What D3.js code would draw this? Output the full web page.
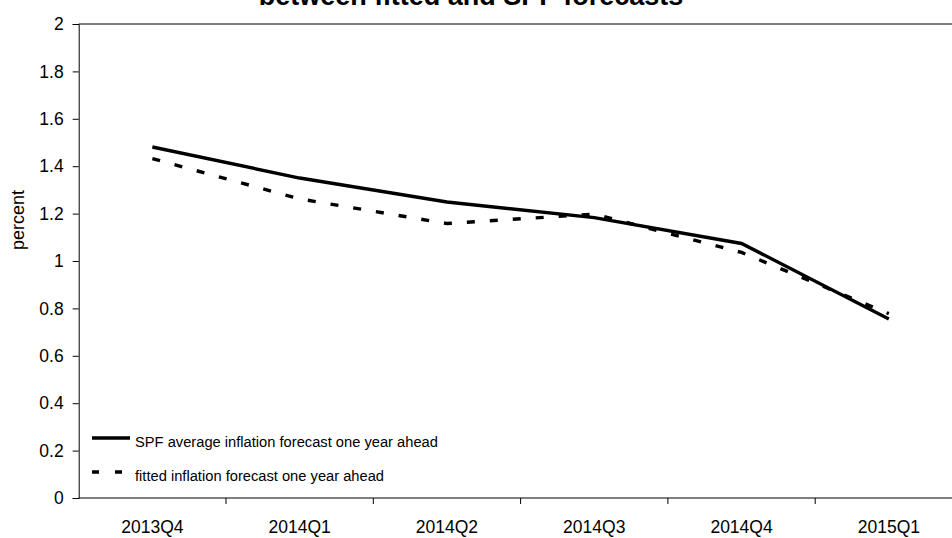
<!DOCTYPE html>
<html>
<head>
<meta charset="utf-8">
<script src="https://cdn.jsdelivr.net/npm/d3@7"></script>
<style>
  body { margin: 0; background: #fff; }
  svg { display: block; font-family: "Liberation Sans", Arial, sans-serif; }
</style>
</head>
<body>
<div id="chart"></div>
<script>
// data
const quarters = ["2013Q4", "2014Q1", "2014Q2", "2014Q3", "2014Q4", "2015Q1"];
const spf_values = [1.481, 1.350, 1.249, 1.183, 1.074, 0.755];
const fitted_values = [1.432, 1.262, 1.158, 1.198, 1.036, 0.778];
const y_ticks = [0, 0.2, 0.4, 0.6, 0.8, 1, 1.2, 1.4, 1.6, 1.8, 2];
const legend_labels = ["SPF average inflation forecast one year ahead", "fitted inflation forecast one year ahead"];

const width = 952, height = 538;
const margin = {top: 24, left: 78.7, bottom: 498};
const band = 147.3;

const svg = d3.select("#chart")
    .append("svg")
    .attr("width", width)
    .attr("height", height);

// scales (plot area runs past the right edge, as in the picture)
const x = d3.scaleBand()
    .domain(quarters)
    .range([margin.left, margin.left + band * quarters.length])
    .padding(0);

const y = d3.scaleLinear()
    .domain([0, 2])
    .range([margin.bottom, margin.top]);

// title (only the bottom of the second line is visible)
svg.append("text")
    .attr("x", 471)
    .attr("y", 4.5)
    .attr("text-anchor", "middle")
    .attr("font-size", "27px")
    .attr("font-weight", "bold")
    .attr("fill", "#000")
    .text("between fitted and SPF forecasts");

// plot area top border
svg.append("line")
    .attr("x1", margin.left)
    .attr("x2", margin.left + band * quarters.length)
    .attr("y1", y(2))
    .attr("y2", y(2))
    .attr("stroke", "#000")
    .attr("stroke-width", 1);

// y axis
const y_axis = svg.append("g")
    .attr("transform", "translate(" + margin.left + ",0)")
    .call(d3.axisLeft(y).tickValues(y_ticks).tickSize(6).tickPadding(9).tickFormat(d => d3.format("")(d)));

y_axis.select(".domain").attr("stroke", "#000");
y_axis.selectAll(".tick line").attr("stroke", "#000");
y_axis.selectAll("text")
    .attr("font-size", "17.5px")
    .attr("font-family", "Liberation Sans, Arial, sans-serif")
    .attr("fill", "#000");

svg.append("text")
    .attr("transform", "translate(24,220) rotate(-90)")
    .attr("text-anchor", "middle")
    .attr("font-size", "18px")
    .attr("fill", "#000")
    .text("percent");

// x axis: ticks between categories
const x_axis = svg.append("g")
    .attr("transform", "translate(0," + margin.bottom + ")");

x_axis.append("line")
    .attr("x1", margin.left)
    .attr("x2", margin.left + band * quarters.length)
    .attr("stroke", "#000");

x_axis.selectAll(".xtick")
    .data(quarters)
    .join("line")
    .attr("class", "xtick")
    .attr("x1", d => x(d) + x.bandwidth())
    .attr("x2", d => x(d) + x.bandwidth())
    .attr("y1", 0)
    .attr("y2", 6)
    .attr("stroke", "#000");

x_axis.selectAll(".xlabel")
    .data(quarters)
    .join("text")
    .attr("class", "xlabel")
    .attr("x", d => x(d) + x.bandwidth() / 2)
    .attr("y", 35)
    .attr("text-anchor", "middle")
    .attr("font-size", "17.5px")
    .attr("fill", "#000")
    .text(d => d);

// lines
const line = d3.line()
    .x(d => x(d.q) + x.bandwidth() / 2)
    .y(d => y(d.v));

const spf_data = quarters.map((q, i) => ({q: q, v: spf_values[i]}));
const fitted_data = quarters.map((q, i) => ({q: q, v: fitted_values[i]}));

svg.append("path")
    .datum(fitted_data)
    .attr("d", line)
    .attr("fill", "none")
    .attr("stroke", "#000")
    .attr("stroke-width", 3.4)
    .attr("stroke-dasharray", "8,15");

svg.append("path")
    .datum(spf_data)
    .attr("d", line)
    .attr("fill", "none")
    .attr("stroke", "#000")
    .attr("stroke-width", 3.4);

// legend
const legend = svg.append("g").attr("class", "legend");

legend.append("line")
    .attr("x1", 92).attr("x2", 130)
    .attr("y1", 438).attr("y2", 438)
    .attr("stroke", "#000")
    .attr("stroke-width", 3.4);

legend.append("line")
    .attr("x1", 92).attr("x2", 130)
    .attr("y1", 472).attr("y2", 472)
    .attr("stroke", "#000")
    .attr("stroke-width", 3.4)
    .attr("stroke-dasharray", "7,16");

legend.selectAll("text")
    .data(legend_labels)
    .join("text")
    .attr("x", 135)
    .attr("y", (d, i) => 447 + 34 * i)
    .attr("font-size", "14.7px")
    .attr("fill", "#000")
    .text(d => d);
</script>
</body>
</html>
